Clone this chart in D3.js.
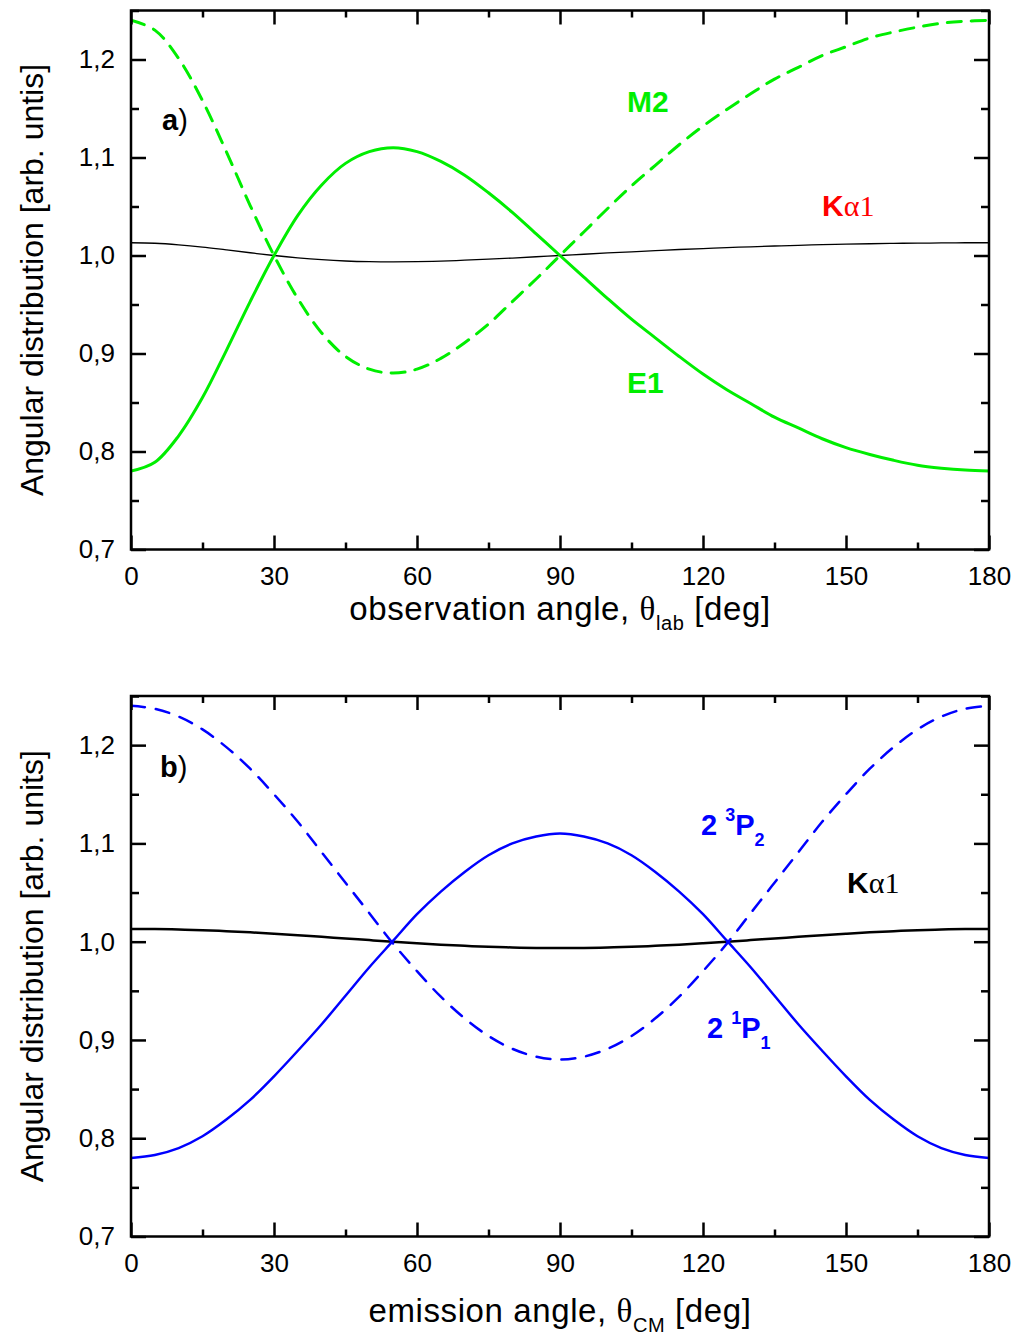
<!DOCTYPE html>
<html>
<head>
<meta charset="utf-8">
<script src="https://cdn.jsdelivr.net/npm/d3@7"></script>
<style>
  body { margin: 0; background: #fff; }
  svg { display: block; }
</style>
</head>
<body>
<svg id="chart" width="1018" height="1339"></svg>
<script>
// angles in degrees, 5 deg step
const angles = d3.range(0, 181, 5);

// panel a) - laboratory frame
const e1_lab = [0.780, 0.789, 0.816, 0.855, 0.903, 0.953, 1.000, 1.041, 1.072, 1.094, 1.106, 1.110, 1.106,
  1.096, 1.082, 1.064, 1.044, 1.022, 1.000, 0.978, 0.956, 0.935, 0.916, 0.897, 0.879, 0.863, 0.849,
  0.835, 0.824, 0.813, 0.804, 0.797, 0.791, 0.786, 0.783, 0.781, 0.780];
const m2_lab = [1.240, 1.230, 1.201, 1.158, 1.106, 1.051, 1.000, 0.956, 0.921, 0.897, 0.884, 0.880, 0.884,
  0.895, 0.911, 0.930, 0.953, 0.976, 1.000, 1.024, 1.048, 1.071, 1.092, 1.113, 1.132, 1.149, 1.165,
  1.180, 1.192, 1.204, 1.213, 1.222, 1.228, 1.233, 1.237, 1.239, 1.240];
const ka1_lab = [1.0130, 1.0125, 1.0109, 1.0086, 1.0057, 1.0028, 1.0000, 0.9976, 0.9957, 0.9944, 0.9937,
  0.9935, 0.9937, 0.9943, 0.9952, 0.9962, 0.9974, 0.9987, 1.0000, 1.0013, 1.0026, 1.0038, 1.0050,
  1.0061, 1.0071, 1.0081, 1.0089, 1.0097, 1.0104, 1.0110, 1.0116, 1.0120, 1.0124, 1.0126, 1.0128,
  1.0130, 1.0130];

// panel b) - emitter frame
const p1_cm = [0.780, 0.783, 0.790, 0.802, 0.819, 0.839, 0.863, 0.889, 0.916, 0.945, 0.974, 1.001, 1.028,
  1.051, 1.071, 1.088, 1.100, 1.107, 1.110, 1.107, 1.100, 1.088, 1.071, 1.051, 1.028, 1.001, 0.974,
  0.945, 0.916, 0.889, 0.863, 0.839, 0.819, 0.802, 0.790, 0.783, 0.780];
const p2_cm = [1.240, 1.237, 1.229, 1.216, 1.198, 1.176, 1.150, 1.122, 1.091, 1.060, 1.029, 0.998, 0.970,
  0.944, 0.922, 0.904, 0.891, 0.883, 0.880, 0.883, 0.891, 0.904, 0.922, 0.944, 0.970, 0.998, 1.029,
  1.060, 1.091, 1.122, 1.150, 1.176, 1.198, 1.216, 1.229, 1.237, 1.240];
const ka1_cm = [1.0130, 1.0129, 1.0124, 1.0117, 1.0107, 1.0095, 1.0081, 1.0066, 1.0049, 1.0033, 1.0016,
  0.9999, 0.9984, 0.9970, 0.9958, 0.9948, 0.9941, 0.9936, 0.9935, 0.9936, 0.9941, 0.9948, 0.9958,
  0.9970, 0.9984, 0.9999, 1.0016, 1.0033, 1.0049, 1.0066, 1.0081, 1.0095, 1.0107, 1.0117, 1.0124,
  1.0129, 1.0130];

const x_major = [0, 30, 60, 90, 120, 150, 180];
const x_minor = [15, 45, 75, 105, 135, 165];
const y_major = [0.7, 0.8, 0.9, 1.0, 1.1, 1.2];
const y_minor = [0.75, 0.85, 0.95, 1.05, 1.15, 1.25];

const green = "#00ee00", blue = "#0000ff";
const sans = "'Liberation Sans', Arial, sans-serif";
const serif = "'Liberation Serif', 'Times New Roman', serif";

const svg = d3.select("#chart");
const x_left = 131, x_right = 989;

function drawPanel(top, bottom, id, series, y_title, x_title_parts, title_y) {
    let x_scale = d3.scaleLinear().domain([0, 180]).range([x_left, x_right]);
    let y_scale = d3.scaleLinear().domain([0.7, 1.25]).range([bottom, top]);
    let g = svg.append("g").attr("id", id);

    // clip for curves
    svg.append("clipPath").attr("id", id + "-clip")
        .append("rect")
        .attr("x", x_left).attr("y", top)
        .attr("width", x_right - x_left).attr("height", bottom - top);

    let line = d3.line()
        .x((d, i) => x_scale(angles[i]))
        .y(d => y_scale(d))
        .curve(d3.curveCatmullRom.alpha(0.5));

    let curves = g.append("g").attr("clip-path", "url(#" + id + "-clip)");
    series.forEach(s => {
        curves.append("path")
            .datum(s.values)
            .attr("d", line)
            .attr("fill", "none")
            .attr("stroke", s.color)
            .attr("stroke-width", s.width)
            .attr("stroke-dasharray", s.dash || null)
            .attr("stroke-linecap", s.dash ? "round" : "butt");
    });

    // axes: ticks point inward
    let fmt_y = d => d3.format(".1f")(d).replace(".", ",");
    let addAxis = (axis, transform, labels) => {
        let a = g.append("g").attr("transform", transform).call(axis);
        a.select(".domain").remove();
        a.selectAll("line").attr("stroke", "#000").attr("stroke-width", 2.5);
        a.selectAll("text")
            .attr("font-family", sans).attr("font-size", 26).attr("fill", "#000");
        if (!labels) a.selectAll("text").remove();
        return a;
    };

    addAxis(d3.axisBottom(x_scale).tickValues(x_major).tickSize(-14).tickPadding(17).tickSizeOuter(0),
        "translate(0," + bottom + ")", true);
    addAxis(d3.axisBottom(x_scale).tickValues(x_minor).tickSize(-7).tickSizeOuter(0),
        "translate(0," + bottom + ")", false);
    addAxis(d3.axisTop(x_scale).tickValues(x_major).tickSize(-14).tickSizeOuter(0),
        "translate(0," + top + ")", false);
    addAxis(d3.axisTop(x_scale).tickValues(x_minor).tickSize(-7).tickSizeOuter(0),
        "translate(0," + top + ")", false);
    addAxis(d3.axisLeft(y_scale).tickValues(y_major).tickFormat(fmt_y).tickSize(-15).tickPadding(16).tickSizeOuter(0),
        "translate(" + x_left + ",0)", true);
    addAxis(d3.axisLeft(y_scale).tickValues(y_minor).tickSize(-8).tickSizeOuter(0),
        "translate(" + x_left + ",0)", false);
    addAxis(d3.axisRight(y_scale).tickValues(y_major).tickSize(-15).tickSizeOuter(0),
        "translate(" + x_right + ",0)", false);
    addAxis(d3.axisRight(y_scale).tickValues(y_minor).tickSize(-8).tickSizeOuter(0),
        "translate(" + x_right + ",0)", false);

    // frame
    g.append("rect")
        .attr("x", x_left).attr("y", top)
        .attr("width", x_right - x_left).attr("height", bottom - top)
        .attr("fill", "none").attr("stroke", "#000").attr("stroke-width", 2.5);

    // y title
    g.append("text")
        .attr("transform", "translate(43," + ((top + bottom) / 2) + ") rotate(-90)")
        .attr("text-anchor", "middle")
        .attr("font-family", sans).attr("font-size", 32)
        .text(y_title);

    // x title with subscript
    let xt = g.append("text")
        .attr("x", (x_left + x_right) / 2).attr("y", title_y)
        .attr("text-anchor", "middle")
        .attr("font-family", sans).attr("font-size", 33)
        .attr("letter-spacing", 0.6);
    xt.append("tspan").text(x_title_parts[0]);
    xt.append("tspan").attr("font-family", serif).text("\u03b8");
    xt.append("tspan").attr("font-size", 20).attr("dy", 10).text(x_title_parts[1]);
    xt.append("tspan").attr("dy", -10).text(" [deg]");

    return { x_scale, y_scale, g };
}

// ---- panel a)
let pa = drawPanel(10.5, 549.5, "panel-a", [
    { values: ka1_lab, color: "#000", width: 1.3 },
    { values: m2_lab, color: green, width: 3, dash: "14,10" },
    { values: e1_lab, color: green, width: 3 }
], "Angular distribution [arb. untis]", ["observation angle, ", "lab"], 620);

// ---- panel b)
let pb = drawPanel(696, 1236.5, "panel-b", [
    { values: ka1_cm, color: "#000", width: 2.5 },
    { values: p2_cm, color: blue, width: 2.5, dash: "14,11" },
    { values: p1_cm, color: blue, width: 2.5 }
], "Angular distribution [arb. units]", ["emission angle, ", "CM"], 1322);

// panel labels
function panelLabel(g, x, y, letter) {
    let t = g.append("text").attr("x", x).attr("y", y)
        .attr("font-family", sans).attr("font-size", 29);
    t.append("tspan").attr("font-weight", "bold").text(letter);
    t.append("tspan").text(")");
}
panelLabel(pa.g, 162, 130, "a");
panelLabel(pb.g, 160, 777, "b");

function boldLabel(g, x, y, color, txt) {
    g.append("text").attr("x", x).attr("y", y)
        .attr("font-family", sans).attr("font-size", 30).attr("font-weight", "bold")
        .attr("fill", color).text(txt);
}
function kalpha(g, x, y, color) {
    let t = g.append("text").attr("x", x).attr("y", y)
        .attr("font-family", sans).attr("font-size", 30).attr("fill", color);
    t.append("tspan").attr("font-weight", "bold").text("K");
    t.append("tspan").attr("font-family", serif).text("\u03b11");
}
function term(g, x, y, sup, sub) {
    let t = g.append("text").attr("x", x).attr("y", y)
        .attr("font-family", sans).attr("font-size", 29).attr("font-weight", "bold").attr("fill", blue);
    t.append("tspan").text("2 ");
    t.append("tspan").attr("font-size", 18).attr("dy", -14).text(sup);
    t.append("tspan").attr("dy", 14).text("P");
    t.append("tspan").attr("font-size", 18).attr("dy", 11).text(sub);
}

boldLabel(pa.g, 627, 112, green, "M2");
boldLabel(pa.g, 627, 393, green, "E1");
kalpha(pa.g, 822, 216, "#ff0000");

term(pb.g, 701, 835, "3", "2");
term(pb.g, 707, 1038, "1", "1");
kalpha(pb.g, 847, 893, "#000");
</script>
</body>
</html>
